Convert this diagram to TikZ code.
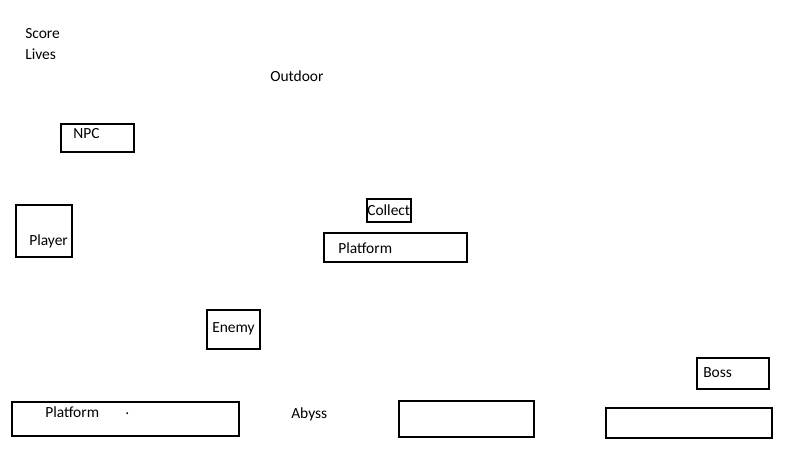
\documentclass[tikz,border=0pt]{standalone}
\usepackage{fontspec}
\setmainfont{Carlito}
\begin{document}
\begin{tikzpicture}[x=0.75pt,y=-0.75pt,
  box/.style={draw=black,line width=1.5pt,inner sep=0pt,anchor=north west},
  lbl/.style={inner sep=0pt,anchor=west,font=\fontsize{11.6pt}{14pt}\selectfont,text=black}]
\useasboundingbox (0,0) rectangle (799,463);
% boxes
\node[box,minimum width=73pt*0.75,minimum height=28pt*0.75] (npcbox) at (60,123) {};
\node[box,minimum width=56pt*0.75,minimum height=52pt*0.75] (playerbox) at (15,204) {};
\node[box,minimum width=44pt*0.75,minimum height=23pt*0.75] (collectbox) at (366,198) {};
\node[box,minimum width=143pt*0.75,minimum height=29pt*0.75] (platbox1) at (323,232) {};
\node[box,minimum width=53pt*0.75,minimum height=39pt*0.75] (enemybox) at (206,309) {};
\node[box,minimum width=72pt*0.75,minimum height=31pt*0.75] (bossbox) at (696,357) {};
\node[box,minimum width=227pt*0.75,minimum height=34pt*0.75] (platbox2) at (11,401) {};
\node[box,minimum width=135pt*0.75,minimum height=36pt*0.75] (box3) at (398,400) {};
\node[box,minimum width=166pt*0.75,minimum height=30pt*0.75] (box4) at (605,407) {};
% labels
\node[lbl] (score) at (25,34) {Score};
\node[lbl] (lives) at (25,54) {Lives};
\node[lbl] (outdoor) at (270,76) {Outdoor};
\node[lbl] (npc) at (73,134) {NPC};
\node[lbl] (player) at (29,241) {Player};
\node[lbl] (collect) at (367,210) {Collect};
\node[lbl] (plat1) at (338,248) {Platform};
\node[lbl] (enemy) at (212,329) {Enemy};
\node[lbl] (boss) at (703,373) {Boss};
\node[lbl] (plat2) at (45,412) {Platform};
\node[lbl] (dot) at (125,414) {.};
\node[lbl] (abyss) at (291,414) {Abyss};
\end{tikzpicture}
\end{document}
